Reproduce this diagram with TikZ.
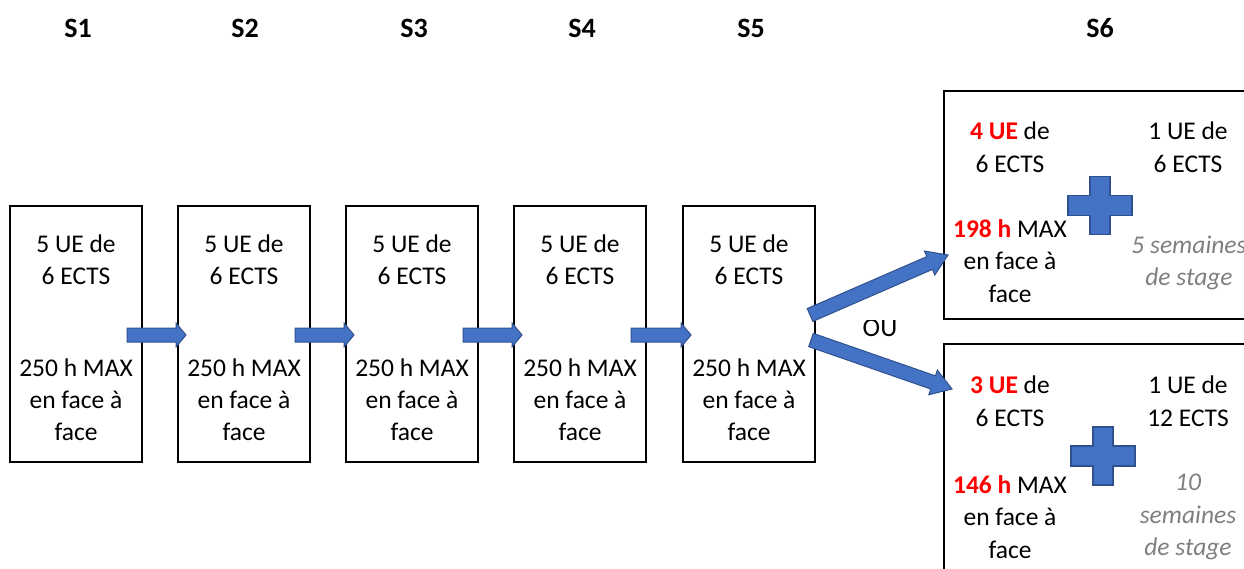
\documentclass[tikz,border=0pt]{standalone}
\usepackage{fontspec}
\setmainfont{Carlito}
\usetikzlibrary{calc}

\definecolor{arrowblue}{HTML}{4472C4}
\definecolor{arrowedge}{HTML}{2F528F}
\definecolor{hlred}{HTML}{FF0000}
\definecolor{notegray}{HTML}{7F7F7F}

\newcommand\hl[1]{\textcolor{hlred}{\bfseries #1}}

% block arrow: from, tip, shaft half width, head half width, head length
\newcommand\blockarr[5]{%
  \draw[blockarrow] let \p1=($(#2)-(#1)$), \n1={atan2(\y1,\x1)}, \n2={veclen(\x1,\y1)} in
    ($(#1)+({\n1+90}:#3)$) -- ++(\n1:{\n2-#5}) -- ++({\n1+90}:{#4-#3}) -- (#2)
    -- ($(#1)+({\n1-90}:#4)+(\n1:{\n2-#5})$) -- ++({\n1+90}:{#4-#3})
    -- ($(#1)+({\n1-90}:#3)$) -- cycle;}

\tikzset{
  blockarrow/.style={fill=arrowblue, draw=arrowedge, line width=1pt, line join=miter},
  plussign/.style={fill=arrowblue, draw=arrowedge, line width=1.5pt},
  sembox/.style={draw, line width=2pt, minimum width=132pt, minimum height=256pt, inner sep=0pt},
  widebox/.style={draw, line width=2pt, anchor=north west, minimum width=360pt, inner sep=0pt},
  txt/.style={align=center, inner sep=0pt, font=\fontsize{25.5}{32.5}\selectfont},
  semtxt/.style={align=center, inner sep=0pt, font=\fontsize{25.5}{32}\selectfont},
  note/.style={txt, text=notegray, font=\fontsize{25.5}{32.5}\selectfont\itshape},
  stagelabel/.style={font=\fontsize{28}{32}\selectfont\bfseries, inner sep=0pt},
}

\begin{document}
\begin{tikzpicture}[x=1pt, y=1pt]
\useasboundingbox (0,0) rectangle (1244,-568);

% semester headings
\node[stagelabel] (l1) at (78,-28) {S1};
\node[stagelabel] (l2) at (245,-28) {S2};
\node[stagelabel] (l3) at (414,-28) {S3};
\node[stagelabel] (l4) at (582,-28) {S4};
\node[stagelabel] (l5) at (751,-28) {S5};
\node[stagelabel] (l6) at (1100,-28) {S6};

% semesters 1 to 5
\foreach \i/\x in {1/76, 2/244, 3/412, 4/580, 5/749}{
  \node[sembox] (s\i) at (\x,-333.5) {};
  \node[semtxt] (s\i txt) at ($(s\i)+(0,-4.5)$)
    {5 UE de\\6 ECTS\\[60pt]250 h MAX\\en face à\\face};
}

% arrows between semesters
\foreach \a/\b in {1/2, 2/3, 3/4, 4/5}{
  \coordinate (f\a) at ($(s\a.east)+(-16,-1.5)$);
  \coordinate (t\a) at ($(s\b.west)+(9,-1.5)$);
  \blockarr{f\a}{t\a}{7}{12}{10}
}

% semester 6, two options
\node[widebox, minimum height=228pt] (s6a) at (943,-90) {};
\node[widebox, minimum height=260pt] (s6b) at (943,-343) {};

\node[txt] (a1) at (1010,-147) {\hl{4 UE} de\\6 ECTS};
\node[txt] (a2) at (1010,-261) {\hl{198 h} MAX\\en face à\\face};
\node[txt] (a3) at (1188,-147) {1 UE de\\6 ECTS};
\node[note] (a4) at (1189,-263) {5 semaines\\de stage};

\node[txt] (b1) at (1010,-401) {\hl{3 UE} de\\6 ECTS};
\node[txt] (b2) at (1010,-517) {\hl{146 h} MAX\\en face à\\face};
\node[txt] (b3) at (1188,-401) {1 UE de\\12 ECTS};
\node[note] (b4) at (1188,-517) {10\\semaines\\de stage};

\begin{scope}[shift={(1100,-205.5)}]
  \draw[plussign] (-10,29) -- (10,29) -- (10,10) -- (32,10) -- (32,-10) -- (10,-10)
    -- (10,-29) -- (-10,-29) -- (-10,-10) -- (-32,-10) -- (-32,10) -- (-10,10) -- cycle;
\end{scope}
\begin{scope}[shift={(1103,-456)}]
  \draw[plussign] (-10,29) -- (10,29) -- (10,10) -- (32,10) -- (32,-10) -- (10,-10)
    -- (10,-29) -- (-10,-29) -- (-10,-10) -- (-32,-10) -- (-32,10) -- (-10,10) -- cycle;
\end{scope}

% branching arrows
\coordinate (fa) at ($(s5.east)+(-6,18.5)$);
\coordinate (ta) at ($(s6a.south west)+(5,65)$);
\coordinate (fb) at ($(s5.east)+(-5,-6.5)$);
\coordinate (tb) at ($(s6b.north west)+(9,-46)$);
\blockarr{fa}{ta}{7}{13}{20}
\blockarr{fb}{tb}{7}{13}{20}

% "OU" with its top edge trimmed
\begin{scope}
  \clip (840,-320) rectangle (920,-345);
  \node[txt, font=\fontsize{26.5}{30}\selectfont] (ou) at (880,-328) {OU};
\end{scope}
\end{tikzpicture}
\end{document}
